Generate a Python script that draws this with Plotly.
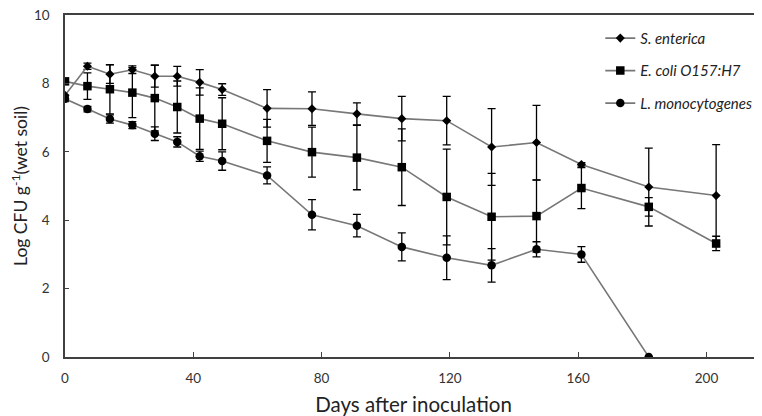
import plotly.graph_objects as go

days = [0, 7, 14, 21, 28, 35, 42, 49, 63, 77, 91, 105, 119, 133, 147, 161, 182, 203]

enterica = [7.65, 8.50, 8.27, 8.40, 8.21, 8.21, 8.03, 7.82, 7.27, 7.26, 7.11, 6.97, 6.91, 6.14, 6.27, 5.63, 4.97, 4.72]
enterica_err = [0, 0.09, 0.27, 0.11, 0.32, 0.29, 0.37, 0.17, 0.55, 0.49, 0.32, 0.65, 0.71, 1.12, 1.09, 0.05, 1.14, 1.49]

ecoli = [8.06, 7.92, 7.83, 7.73, 7.57, 7.31, 6.97, 6.82, 6.32, 5.99, 5.83, 5.55, 4.68, 4.10, 4.12, 4.94, 4.39, 3.32]
ecoli_err = [0, 0.39, 0.72, 0.73, 0.96, 0.76, 0.90, 0.76, 0.63, 0.73, 0.94, 1.12, 1.40, 1.27, 1.05, 0.60, 0.27, 0.21]

listeria = [7.55, 7.25, 6.96, 6.78, 6.53, 6.29, 5.87, 5.73, 5.31, 4.16, 3.84, 3.22, 2.90, 2.68, 3.15, 3.00, 0.0, None]
listeria_err = [0.08, 0.08, 0.12, 0.10, 0.20, 0.15, 0.15, 0.27, 0.25, 0.44, 0.33, 0.41, 0.64, 0.49, 0.22, 0.23, 0, None]

names = ["S. enterica", "E. coli O157:H7", "L. monocytogenes"]
x_ticks = [0, 40, 80, 120, 160, 200]
y_ticks = [0, 2, 4, 6, 8, 10]

FONT = "Lato"
LINE = "#777777"

series = [
    (names[0], enterica, enterica_err, "diamond", 7),
    (names[1], ecoli, ecoli_err, "square", 8.5),
    (names[2], listeria, listeria_err, "circle", 8.5),
]

fig = go.Figure()
for i, (nm, vals, errs, sym, sz) in enumerate(series):
    fig.add_trace(go.Scatter(
        x=days, y=vals, name=nm, mode="lines+markers",
        legendgroup=f"g{i}",
        line=dict(color=LINE, width=1.6),
        marker=dict(symbol=sym, size=sz, color="black"),
        error_y=dict(type="data", array=errs, visible=True,
                     color="black", thickness=1.3, width=4),
        connectgaps=False,
    ))

# the page adds an 8px body margin, so the figure is sized to fill the rest
fig.update_layout(
    width=754, height=408,
    margin=dict(l=57, r=0, t=7, b=59, autoexpand=False),
    paper_bgcolor="white", plot_bgcolor="white",
    font=dict(family=FONT, size=13, color="#333333"),
    showlegend=True,
    legend=dict(
        x=0.768, y=0.98, xanchor="left", yanchor="top",
        traceorder="grouped", tracegroupgap=10,
        font=dict(family=FONT, size=15, color="#222222", style="italic"),
        bgcolor="rgba(0,0,0,0)", itemwidth=30,
    ),
    xaxis=dict(
        range=[0, 217.3], tickvals=x_ticks, ticktext=[str(v) for v in x_ticks],
        ticks="inside", ticklen=5, tickcolor="#404040", tickwidth=1.2,
        showline=True, linecolor="#404040", linewidth=1.5, mirror=True,
        showgrid=False, zeroline=False, ticklabelstandoff=8,
        ticklabeloverflow="allow",
        tickfont=dict(family=FONT, size=13.5, color="#333333"),
        title=dict(text="Days after inoculation", standoff=14,
                   font=dict(family=FONT, size=20.5, color="#222222")),
        automargin=False,
    ),
    yaxis=dict(
        range=[0, 10], tickvals=y_ticks, ticktext=[str(v) for v in y_ticks],
        ticks="inside", ticklen=4, tickcolor="#404040", tickwidth=1.2,
        showline=True, linecolor="#404040", linewidth=1.5, mirror=False,
        showgrid=False, zeroline=False, ticklabelstandoff=11,
        ticklabeloverflow="allow",
        tickfont=dict(family=FONT, size=13.5, color="#333333"),
        title=dict(text="Log CFU g<sup>-1</sup>(wet soil)", standoff=7,
                   font=dict(family=FONT, size=17.5, color="#222222")),
        automargin=False,
    ),
)

fig.write_html("out.html")
